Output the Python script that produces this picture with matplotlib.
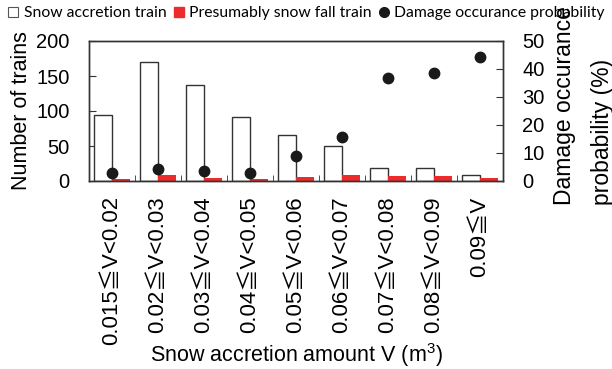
import matplotlib
matplotlib.use("Agg")
import matplotlib.pyplot as plt
from matplotlib.lines import Line2D
import numpy as np

categories = ["0.015≦V<0.02", "0.02≦V<0.03", "0.03≦V<0.04", "0.04≦V<0.05",
              "0.05≦V<0.06", "0.06≦V<0.07", "0.07≦V<0.08", "0.08≦V<0.09", "0.09≦V"]
snow_accretion = [95, 170, 137, 91, 66, 50, 19, 18, 9]
snow_fall = [3, 8, 4, 3, 6, 8, 7, 7, 5]
damage_prob = [3.0, 4.4, 3.4, 3.0, 8.9, 15.8, 36.7, 38.7, 44.4]
left_ticks = [0, 50, 100, 150, 200]
right_ticks = [0, 10, 20, 30, 40, 50]

plt.rcParams['font.family'] = ['Liberation Sans', 'Noto Sans CJK JP', 'DejaVu Sans']
plt.rcParams['mathtext.fontset'] = 'custom'
plt.rcParams['mathtext.rm'] = 'Liberation Sans'
plt.rcParams['mathtext.it'] = 'Liberation Sans'

fig = plt.figure(figsize=(6.12, 3.69), dpi=100)
ax = fig.add_axes([89/612, 1-181/369, (503-89)/612, 140/369])
ax2 = ax.twinx()

x = np.arange(len(categories))
w = 0.4
red = '#ee2b2b'
edge = '#333333'
ax.bar(x - 0.2, snow_accretion, width=w, facecolor='white', edgecolor=edge, linewidth=1.0, zorder=2)
ax.bar(x + 0.2, snow_fall, width=w, facecolor=red, edgecolor='none', zorder=2)
ax2.plot(x, damage_prob, 'o', color='#1a1a1a', markersize=7.5, zorder=3)

ax.set_xlim(-0.5, len(categories) - 0.5)
ax.set_ylim(0, 200)
ax2.set_ylim(0, 50)
ax.set_yticks(left_ticks)
ax2.set_yticks(right_ticks)

ax.set_xticks(x)
ax.set_xticklabels(categories, rotation=90, va='top', ha='center')
ax.set_xticks(np.arange(len(categories) + 1) - 0.5, minor=True)
ax.tick_params(axis='x', which='major', length=0, pad=11, labelsize=16)
ax.tick_params(axis='x', which='minor', direction='in', length=4, color=edge)
ax.tick_params(axis='y', direction='in', length=5, pad=14, labelsize=14.5, color=edge)
ax2.tick_params(axis='y', direction='in', length=5, pad=14, labelsize=14.5, color=edge)

for a in (ax, ax2):
    for s in a.spines.values():
        s.set_color(edge)
        s.set_linewidth(1.0)

ax.set_ylabel("Number of trains", fontsize=15.5)
ax.yaxis.set_label_coords(-0.137, 0.5)
ax.set_xlabel("Snow accretion amount V (m$^{3}$)", fontsize=15.5, va='baseline')
ax.xaxis.set_label_coords(0.5, -1.295)

fig.text(565/612, 1-205/369, "Damage occurance", rotation=90, ha='center', va='bottom', fontsize=16.5)
fig.text(603/612, 1-205/369, "probability (%)", rotation=90, ha='center', va='bottom', fontsize=16.5)

handles = [
    Line2D([], [], marker='s', linestyle='none', markerfacecolor='white', markeredgecolor='#555555', markersize=7, markeredgewidth=0.8),
    Line2D([], [], marker='s', linestyle='none', markerfacecolor=red, markeredgecolor=red, markersize=7),
    Line2D([], [], marker='o', linestyle='none', color='#1a1a1a', markersize=7),
]
labels = ["Snow accretion train", "Presumably snow fall train", "Damage occurance probability"]
fig.legend(handles, labels, loc='center', bbox_to_anchor=(0.5, 1-13/369), ncol=3, frameon=False,
           handlelength=0.8, handletextpad=0.25, columnspacing=0.4, borderpad=0,
           prop={'family': ['Lato', 'DejaVu Sans'], 'size': 11.3})

fig.savefig("out.png", dpi=100)
